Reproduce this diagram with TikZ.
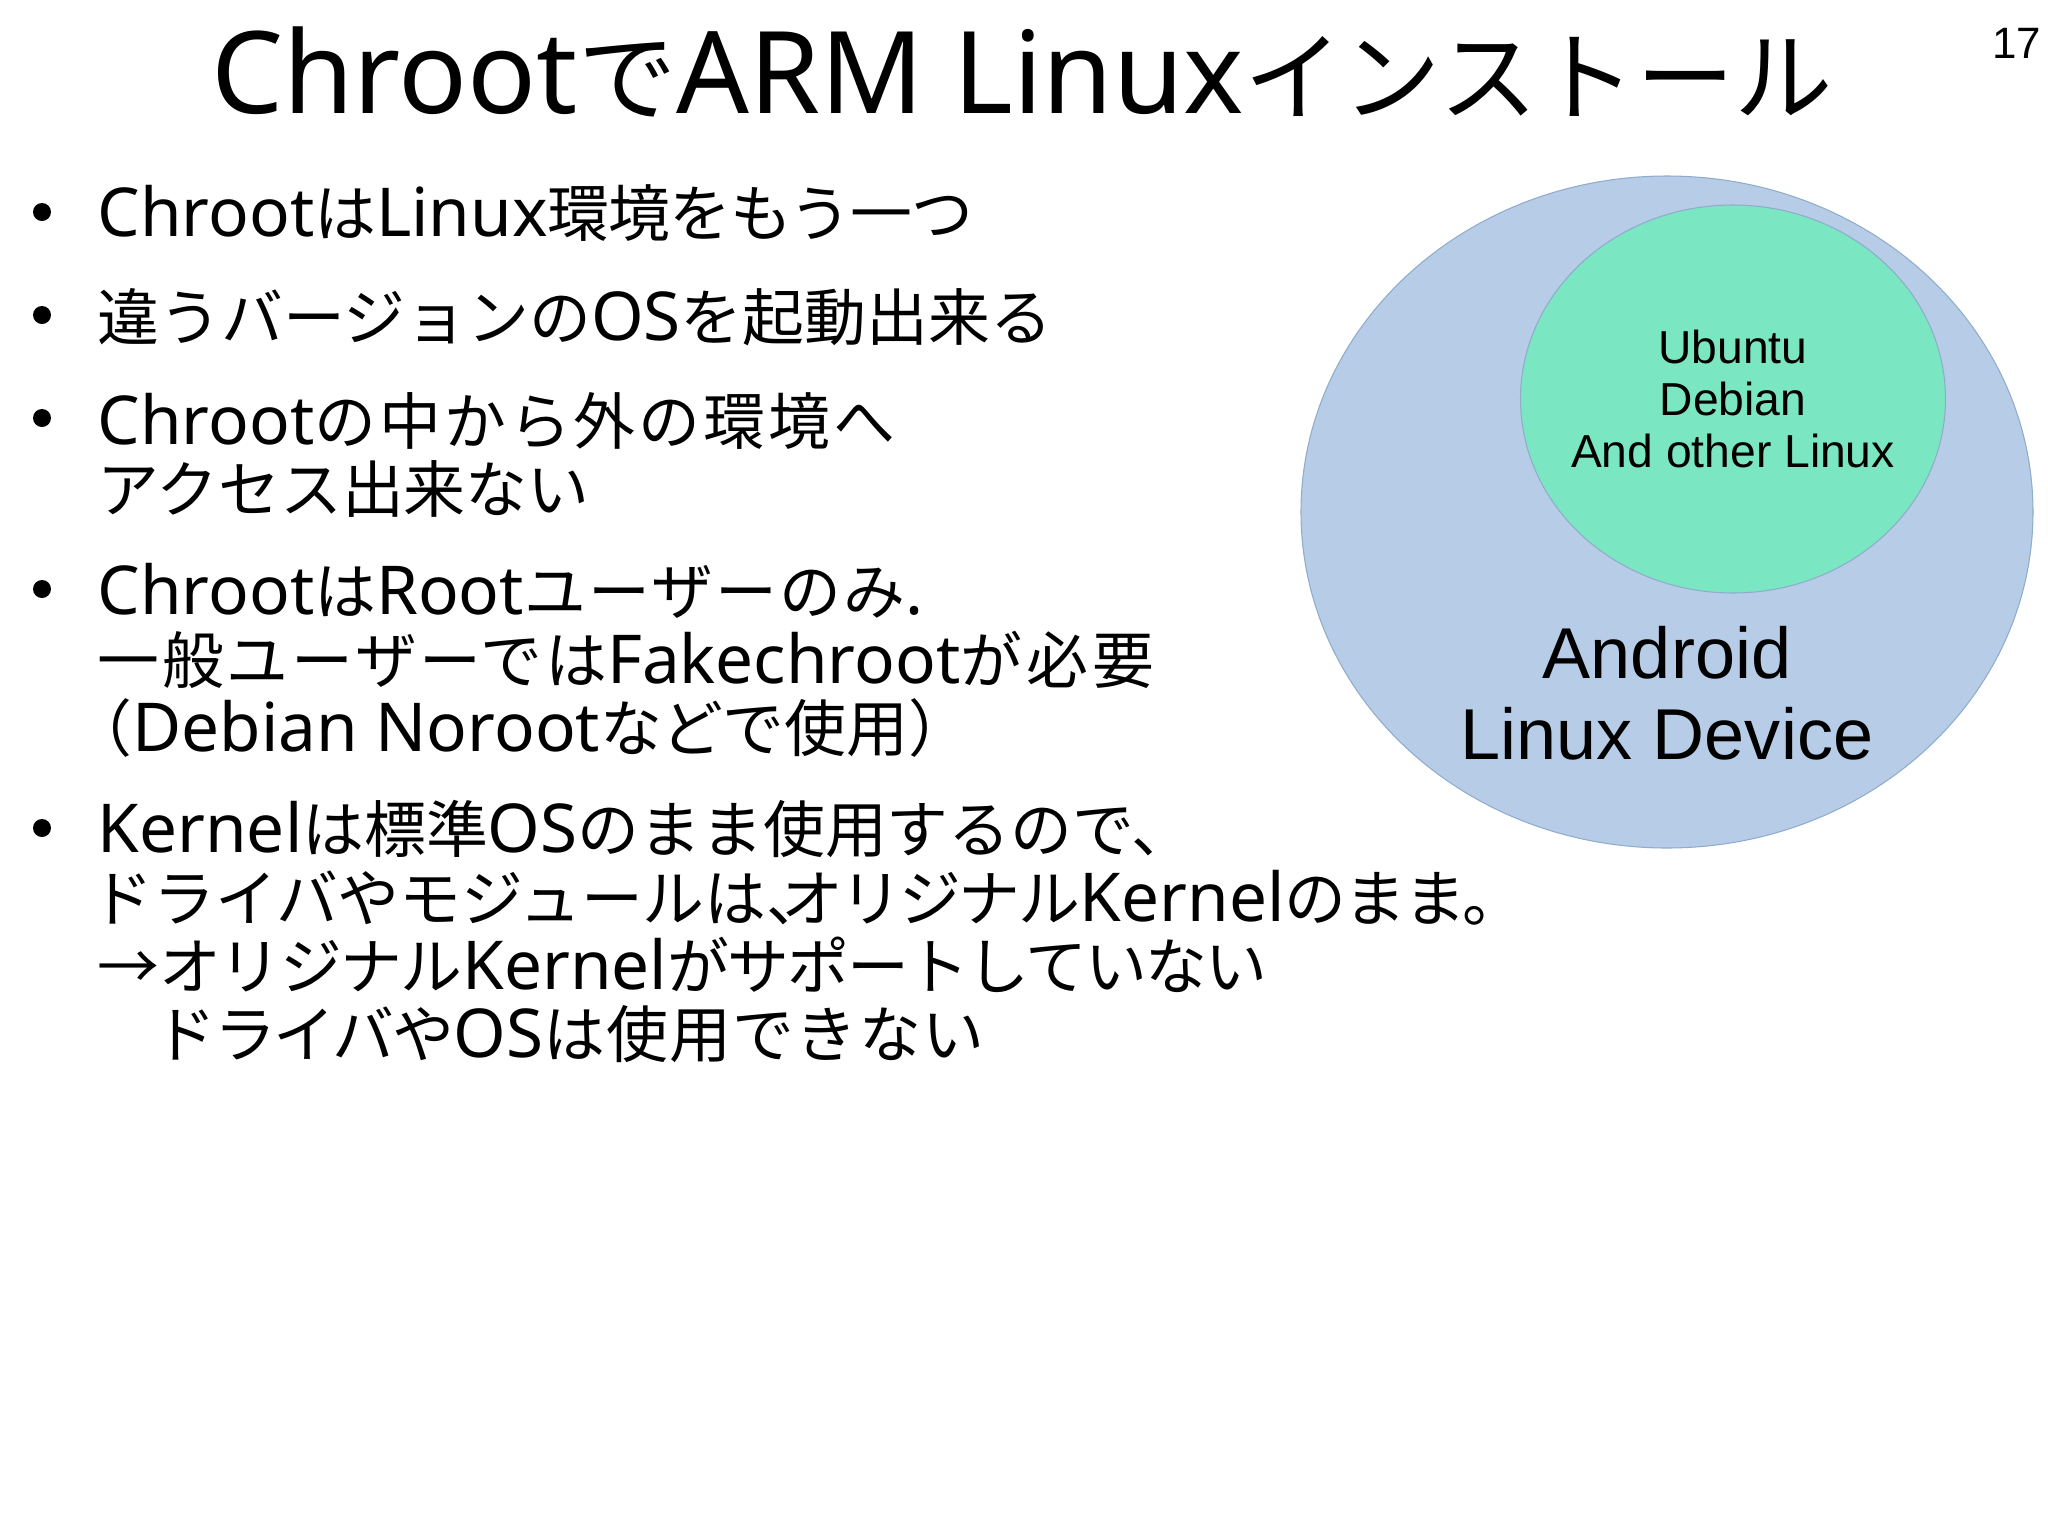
\documentclass[tikz,border=0pt]{standalone}
\usepackage{fontspec}
\setmainfont{Noto Sans CJK JP}
\newfontfamily\labelfont{Liberation Sans}
\newfontfamily\bodylatin[Scale=1.09]{Noto Sans}
\newfontfamily\titlelatin[Scale=1.16]{Noto Sans}
\newcommand{\la}[1]{{\bodylatin #1}}
\newcommand{\tla}[1]{{\titlelatin #1}}
\newcommand{\ls}[2]{{\addfontfeature{LetterSpace=#1}#2}}
\definecolor{androidblue}{HTML}{B7CDE7}
\definecolor{chrootgreen}{HTML}{7AE6C2}
\definecolor{rimblue}{HTML}{8FACCB}
\tikzset{
	bodytext/.style={anchor=base west, inner sep=0pt, align=left, font=\fontsize{17.6}{19.35}\selectfont},
	bulletmark/.style={circle, fill=black, inner sep=0pt, minimum size=0.18cm},
	venn/.style={ellipse, draw=rimblue, line width=0.3pt, inner sep=0pt},
	vennlabel/.style={inner sep=0pt, align=center}
}
\usetikzlibrary{shapes.geometric}
\begin{document}
\begin{tikzpicture}
	\useasboundingbox (0,0) rectangle (20.48,-15.35);
	\node[anchor=base, inner sep=0pt, font=\fontsize{28}{30}\selectfont] (title) at (10.22,-1.13) {\tla{Chroot}で\tla{ARM Linux}インストール};
	\node[anchor=base east, inner sep=0pt, font=\labelfont\fontsize{12.5}{14}\selectfont] (page) at (20.42,-0.58) {17};
	% left column
	\node[bulletmark] (dot1) at (0.42,-2.12) {};
	\node[bulletmark] (dot2) at (0.42,-3.15) {};
	\node[bulletmark] (dot3) at (0.42,-4.18) {};
	\node[bulletmark] (dot4) at (0.42,-5.89) {};
	\node[bulletmark] (dot5) at (0.42,-8.28) {};
	\node[bodytext] (item1) at (0.97,-2.36) {\la{Chroot}は\la{Linux}\ls{-1.5}{環境をもう一つ}};
	\node[bodytext] (item2) at (0.97,-3.40) {違うバージョンの\la{OS}を起動出来る};
	\node[bodytext] (item3) at (0.97,-5.12) {\la{Chroot}\ls{4.9}{の中から外の環境へ}\\アクセス出来ない};
	\node[bodytext] (item4) at (0.97,-7.51) {\la{Chroot}は\la{Root}\ls{3.7}{ユーザーのみ}\la{.}\\\ls{4.5}{一般ユーザーでは}\la{Fakechroot}\ls{7}{が必要}\\\hspace*{-0.27cm}（\la{Debian Noroot}などで使用）};
	\node[bodytext] (item5) at (0.97,-10.57) {\la{Kernel}は標準\la{OS}のまま使用するので、\\\hspace*{-0.06cm}ドライバやモジュールは、\hspace*{-0.47cm}\ls{-4.4}{オリジナル}\la{Kernel}\ls{-3}{のまま。}\\→\ls{-2.6}{オリジナル}\la{Kernel}\ls{-3}{がサポートしていない}\\\hspace*{-0.05cm}　\ls{-3.5}{ドライバや}\la{OS}\ls{2}{は使用できない}};
	% right column
	\node[venn, fill=androidblue, minimum width=7.32cm, minimum height=6.72cm] (android) at (16.67,-5.12) {};
	\node[venn, fill=chrootgreen, minimum width=4.25cm, minimum height=3.88cm] (chroot) at (17.33,-3.99) {};
	\node[vennlabel, font=\labelfont\fontsize{13.15}{14.8}\selectfont] (distros) at (17.33,-3.99) {Ubuntu\\Debian\\And other Linux};
	\node[vennlabel, font=\labelfont\fontsize{20.5}{23}\selectfont] (device) at (16.67,-6.93) {Android\\Linux Device};
\end{tikzpicture}
\end{document}
